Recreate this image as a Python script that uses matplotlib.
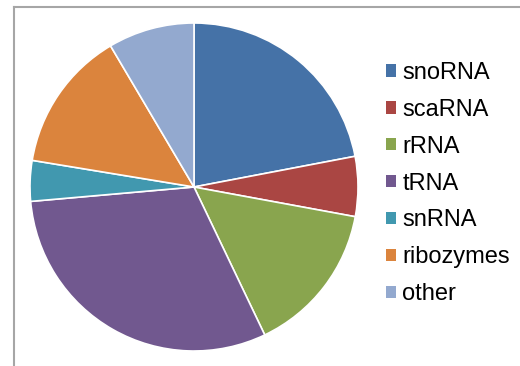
import matplotlib.pyplot as plt
from matplotlib.patches import Patch
from matplotlib.lines import Line2D

labels = ['snoRNA', 'scaRNA', 'rRNA', 'tRNA', 'snRNA', 'ribozymes', 'other']
shares = [22.0, 5.9, 15.0, 30.7, 4.0, 13.9, 8.5]
colors = ['#4572A7', '#AA4643', '#89A54E', '#71588F', '#4198AF', '#DB843D', '#93A9CF']

plt.rcParams['font.family'] = ['Liberation Sans', 'DejaVu Sans']

W, H = 520, 366
fig = plt.figure(figsize=(W / 100, H / 100), dpi=100)

# pie centred near (194, 187) px with radius ~164 px
cx, cy, r = 194, 187, 164
ax = fig.add_axes([(cx - r) / W, (H - cy - r) / H, 2 * r / W, 2 * r / H])
ax.pie(shares, colors=colors, startangle=90, counterclock=False,
       wedgeprops=dict(edgecolor='white', linewidth=1.2))
ax.set_xlim(-1, 1)
ax.set_ylim(-1, 1)
ax.set_aspect('equal')

# grey frame at top and left
fig.add_artist(Line2D([13.5 / W, 1], [1 - 7 / H, 1 - 7 / H], color='#A6A6A6', lw=1.5))
fig.add_artist(Line2D([13.5 / W, 13.5 / W], [0, 1 - 7 / H], color='#A6A6A6', lw=1.5))

handles = [Patch(facecolor=c, edgecolor='none') for c in colors]
fig.legend(handles, labels, loc='upper left', bbox_to_anchor=(386 / W, 1 - 62 / H),
           frameon=False, fontsize=17, borderpad=0, borderaxespad=0,
           handlelength=0.42, handleheight=0.42, handletextpad=0.27,
           labelspacing=0.63)

fig.savefig('out.png', dpi=100)
